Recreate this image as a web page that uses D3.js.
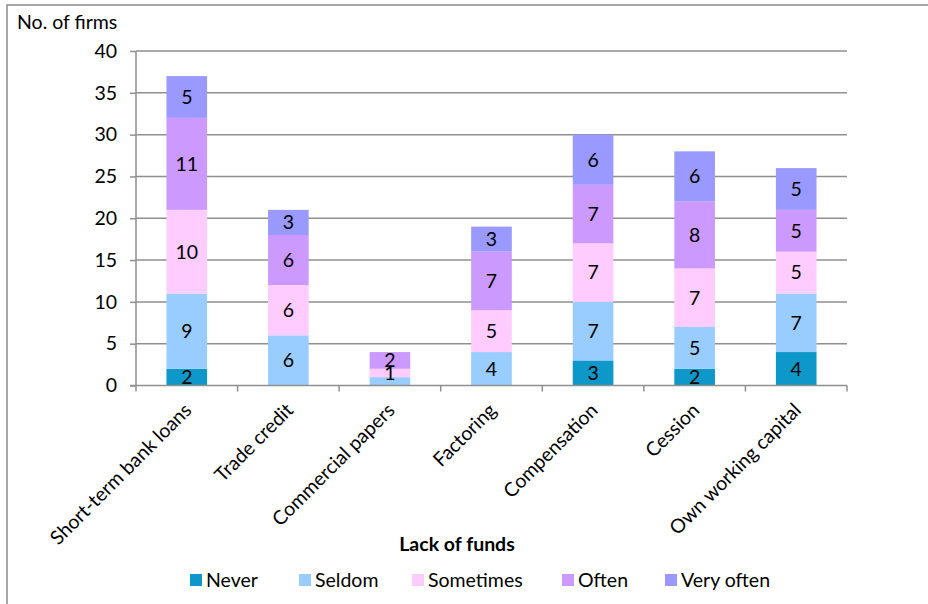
<!DOCTYPE html>
<html>
<head>
<meta charset="utf-8">
<script src="https://cdn.jsdelivr.net/npm/d3@7"></script>
<style>
  html, body { margin: 0; padding: 0; background: #fff; }
  svg { display: block; font-family: Lato, "Liberation Sans", sans-serif; }
</style>
</head>
<body>
<svg id="chart" width="928" height="604"></svg>
<script>
// Funding sources, how often a lack of funds is covered by each
const categories = ["Short-term bank loans", "Trade credit", "Commercial papers", "Factoring", "Compensation", "Cession", "Own working capital"];
const seriesNames = ["Never", "Seldom", "Sometimes", "Often", "Very often"];
const never     = [2, 0, 0, 0, 3, 2, 4];
const seldom    = [9, 6, 1, 4, 7, 5, 7];
const sometimes = [10, 6, 1, 5, 7, 7, 5];
const often     = [11, 6, 2, 7, 7, 8, 5];
const veryOften = [5, 3, 0, 3, 6, 6, 5];
const yTicks = [0, 5, 10, 15, 20, 25, 30, 35, 40];
const colors = ["#0E98C9", "#99CCFF", "#FFCCFF", "#CC99FF", "#9999FF"];

const FS = 19.5;

const seriesValues = [never, seldom, sometimes, often, veryOften];
const rows = categories.map((c, i) => {
  const r = { category: c };
  seriesNames.forEach((s, j) => { r[s] = seriesValues[j][i]; });
  return r;
});

const svg = d3.select("#chart");
const margin = { left: 136, right: 847, top: 51, bottom: 385.5 };

const x = d3.scaleBand().domain(categories).range([margin.left, margin.right]).paddingInner(0.6).paddingOuter(0.3);
const y = d3.scaleLinear().domain([0, 40]).range([margin.bottom, margin.top]);

// outer frame
svg.append("rect")
  .attr("x", 7).attr("y", 5).attr("width", 940).attr("height", 620)
  .attr("fill", "none").attr("stroke", "#8a8a8a").attr("stroke-width", 1.5);

// horizontal gridlines
svg.append("g").selectAll("line").data(yTicks.filter(d => d > 0)).join("line")
  .attr("x1", margin.left).attr("x2", margin.right)
  .attr("y1", d => y(d)).attr("y2", d => y(d))
  .attr("stroke", "#8f8f8f").attr("stroke-width", 1.5);

// stacked bars
const stack = d3.stack().keys(seriesNames);
const layers = stack(rows);

const gBars = svg.append("g");
layers.forEach((layer, j) => {
  gBars.append("g").selectAll("rect").data(layer.filter(d => d[1] > d[0])).join("rect")
    .attr("x", d => x(d.data.category))
    .attr("width", x.bandwidth())
    .attr("y", d => y(d[1]))
    .attr("height", d => y(d[0]) - y(d[1]))
    .attr("fill", colors[j]);
});

// value labels, skipping one that would collide with the label above it
const gLabels = svg.append("g").attr("font-size", FS).attr("fill", "#000").attr("text-anchor", "middle");
categories.forEach((c, i) => {
  let lastY = -Infinity;
  const items = [];
  for (let j = layers.length - 1; j >= 0; j--) {
    const d = layers[j][i];
    if (d[1] <= d[0]) continue;
    const cy = y((d[0] + d[1]) / 2);
    if (cy - lastY < 12) continue;
    items.push({ v: d[1] - d[0], cy });
    lastY = cy;
  }
  items.forEach(it => {
    gLabels.append("text")
      .attr("x", x(c) + x.bandwidth() / 2)
      .attr("y", it.cy)
      .attr("dy", "0.35em")
      .text(it.v);
  });
});

// y axis
const yAxis = svg.append("g").attr("transform", `translate(${margin.left},0)`)
  .call(d3.axisLeft(y).tickValues(yTicks).tickSize(6).tickPadding(13));
yAxis.select(".domain").attr("stroke", "#8f8f8f").attr("stroke-width", 1.5).attr("d", `M-0,${margin.top}V${margin.bottom}`);
yAxis.selectAll(".tick line").attr("stroke", "#8f8f8f").attr("stroke-width", 1.5);
yAxis.selectAll(".tick text").attr("font-size", FS).attr("font-family", "Lato, sans-serif").attr("fill", "#000");

// x axis: line with dividers between categories
const gx = svg.append("g");
gx.append("line")
  .attr("x1", margin.left - 6).attr("x2", margin.right)
  .attr("y1", margin.bottom).attr("y2", margin.bottom)
  .attr("stroke", "#8f8f8f").attr("stroke-width", 1.5);
const step = x.step();
const dividers = d3.range(categories.length + 1).map(k => margin.left + k * step);
gx.selectAll("line.div").data(dividers).join("line")
  .attr("class", "div")
  .attr("x1", d => d).attr("x2", d => d)
  .attr("y1", margin.bottom).attr("y2", margin.bottom + 6)
  .attr("stroke", "#8f8f8f").attr("stroke-width", 1.5);

// rotated category labels
gx.selectAll("text").data(categories).join("text")
  .attr("transform", d => `translate(${x(d) + x.bandwidth() / 2 + 6},${margin.bottom + 26}) rotate(-45)`)
  .attr("text-anchor", "end")
  .attr("font-size", FS)
  .attr("fill", "#000")
  .text(d => d);

// axis titles
svg.append("text").attr("x", 17).attr("y", 29).attr("font-size", FS).attr("fill", "#000").text("No. of firms");
svg.append("text").attr("x", 457).attr("y", 551).attr("text-anchor", "middle")
  .attr("font-size", FS).attr("font-weight", "bold").attr("fill", "#000").text("Lack of funds");

// legend
const legendX = [190, 299, 412, 562, 665];
const gLeg = svg.append("g");
seriesNames.forEach((s, j) => {
  gLeg.append("rect").attr("x", legendX[j]).attr("y", 574).attr("width", 12).attr("height", 12).attr("fill", colors[j]);
  gLeg.append("text").attr("x", legendX[j] + 16).attr("y", 580).attr("dy", "0.35em")
    .attr("font-size", FS).attr("fill", "#000").text(s);
});
</script>
</body>
</html>
